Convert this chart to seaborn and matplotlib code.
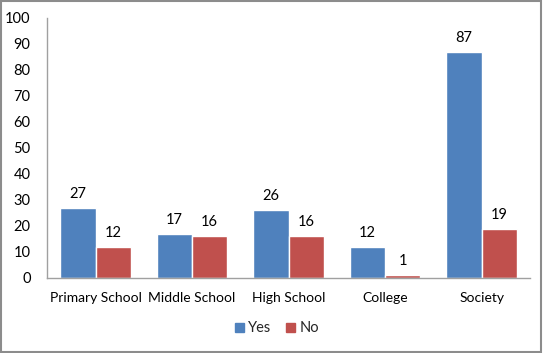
import matplotlib.pyplot as plt
import matplotlib.patches as mpatches
import seaborn as sns
import pandas as pd

categories = ["Primary School", "Middle School", "High School", "College", "Society"]
yes_values = [27, 17, 26, 12, 87]
no_values = [12, 16, 16, 1, 19]
series = ["Yes", "No"]
colors = ["#4F81BD", "#C0504D"]

df = pd.DataFrame({
    "category": categories * 2,
    "value": yes_values + no_values,
    "answer": ["Yes"] * len(categories) + ["No"] * len(categories),
})

sns.set_theme(style="white")
plt.rcParams['font.family'] = ['Lato', 'DejaVu Sans']

fig = plt.figure(figsize=(5.43, 3.53), dpi=100)
ax = fig.add_axes([0.087, 0.2125, 0.889, 0.737])

sns.barplot(data=df, x="category", y="value", hue="answer", hue_order=series,
            palette=colors, width=0.73, gap=0, saturation=1, ax=ax, legend=False)

for container in ax.containers:
    ax.bar_label(container, padding=5, fontsize=10.5, color="#000000")

ax.set_ylim(0, 100)
ax.set_yticks(range(0, 101, 10))
ax.set_xlabel("")
ax.set_ylabel("")
ax.tick_params(axis="y", labelsize=10.5, length=0, colors="black", pad=12)
ax.tick_params(axis="x", labelsize=10, length=0, colors="black", pad=10)
for side in ["top", "right"]:
    ax.spines[side].set_visible(False)
for side in ["left", "bottom"]:
    ax.spines[side].set_color("#A0A0A0")
    ax.spines[side].set_linewidth(1)

handles = [mpatches.Patch(color=c, label=s) for s, c in zip(series, colors)]
fig.legend(handles=handles, loc="center", bbox_to_anchor=(0.51, 0.07), ncol=2,
           frameon=False, fontsize=10.5, handlelength=0.6, handleheight=0.6,
           handletextpad=0.3, columnspacing=1.0)

fig.patches.append(mpatches.Rectangle((0.002, 0.003), 0.995, 0.994, transform=fig.transFigure,
                                      fill=False, edgecolor="#8C8C8C", linewidth=1.5))

fig.savefig("out.png", dpi=100)
